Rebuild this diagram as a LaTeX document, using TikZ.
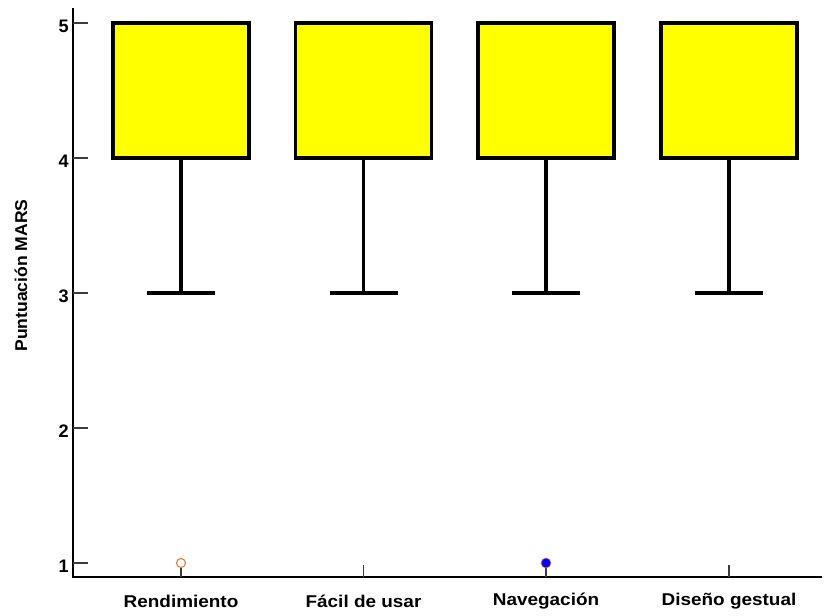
\documentclass[tikz,border=0pt]{standalone}
\usepackage{fontspec}
\setmainfont{Liberation Sans}
\definecolor{boxyellow}{RGB}{255,255,0}
\definecolor{outorange}{RGB}{240,120,50}
\definecolor{outblue}{RGB}{0,0,255}
\definecolor{tickgray}{RGB}{60,60,60}
\begin{document}
\begin{tikzpicture}[x=0.75pt,y=-0.75pt,
  boxst/.style={draw=black,fill=boxyellow,line width=2.4pt},
  whisk/.style={draw=black,line width=2.4pt},
  axisst/.style={draw=black,line width=1.5pt},
  tickst/.style={draw=tickgray,line width=1.1pt},
  lbl/.style={font=\fontsize{12.8}{15}\selectfont\bfseries,inner sep=0pt},
  ticklbl/.style={font=\fontsize{13.6}{16}\selectfont\bfseries,inner sep=0pt,anchor=east}]
\useasboundingbox (0,0) rectangle (830,615);
% axes
\coordinate (otop) at (73,8);
\coordinate (origin) at (73,577);
\coordinate (xend) at (822,577);
\draw[axisst] (otop) -- (origin) -- (xend);
% y ticks
\foreach \v/\yy in {5/23,4/158,3/293,2/428,1/563}{
  \coordinate (yt\v) at (73,\yy);
  \coordinate (ytr\v) at (88,\yy);
  \draw[tickst] (yt\v) -- (ytr\v);
  \node[ticklbl] (ylab\v) at (69,\yy+3) {\v};
}
% boxes
\foreach \i/\cx/\lab in {1/181/Rendimiento,2/363.5/Fácil de usar,3/546/Navegación,4/729/Diseño gestual}{
  \coordinate (xt\i) at (\cx,577);
  \coordinate (xtu\i) at (\cx,565);
  \draw[tickst] (xt\i) -- (xtu\i);
  \coordinate (bq\i) at (\cx,158);
  \coordinate (bw\i) at (\cx,293);
  \coordinate (cl\i) at (\cx-34,293);
  \coordinate (cr\i) at (\cx+34,293);
  \draw[whisk] (bq\i) -- (bw\i);
  \draw[whisk] (cl\i) -- (cr\i);
  \coordinate (bl\i) at (\cx-68,158);
  \coordinate (bu\i) at (\cx+68,23);
  \draw[boxst] (bl\i) rectangle (bu\i);
  \node[lbl] (xlab\i) at (\cx,601) {\scalebox{1.11}[1]{\lab}};
}
% outliers
\node[circle,draw=outorange,fill=white,line width=0.8pt,minimum size=9pt,inner sep=0pt,scale=0.75] (out1) at (181,563) {};
\node[circle,draw=outorange,fill=outblue,line width=0.5pt,minimum size=10pt,inner sep=0pt,scale=0.75] (out3) at (546,563) {};
% y label
\node[lbl,rotate=90] (ylabel) at (21,275.5) {\scalebox{1.03}[1]{Puntuación MARS}};
\end{tikzpicture}
\end{document}
